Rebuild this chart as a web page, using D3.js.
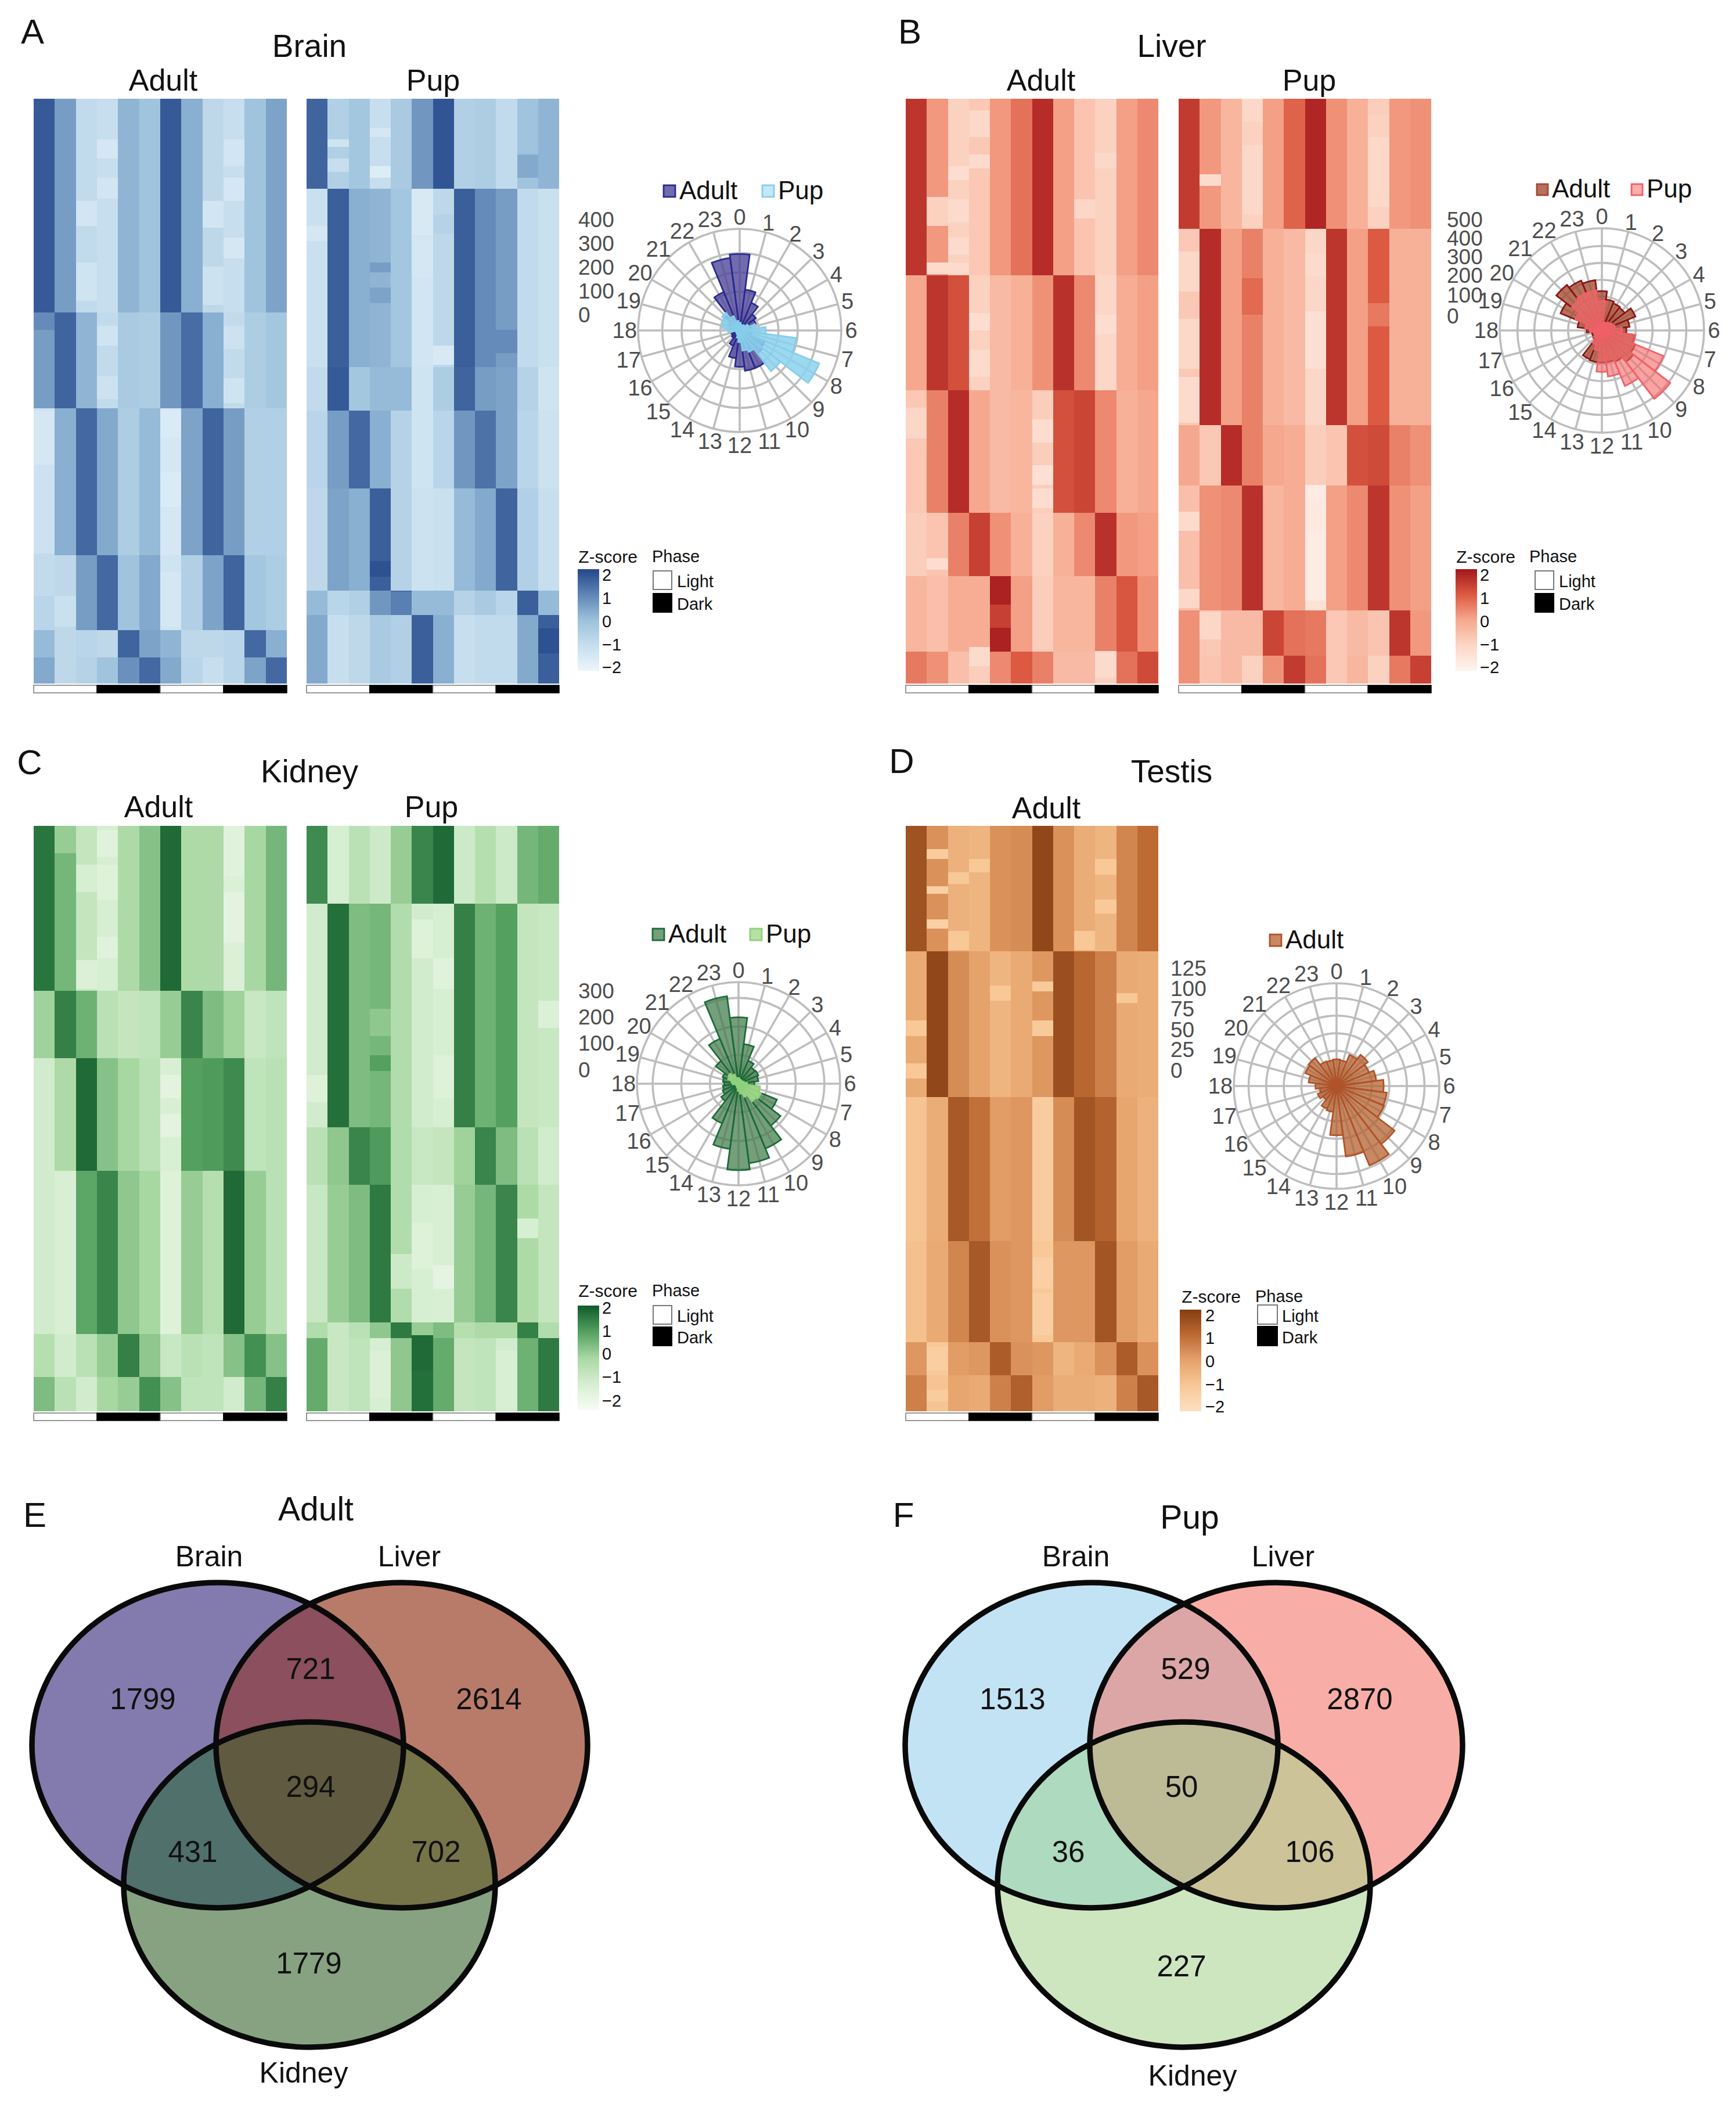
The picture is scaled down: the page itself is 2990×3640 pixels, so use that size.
<!DOCTYPE html>
<html><head><meta charset="utf-8">
<script src="https://cdn.jsdelivr.net/npm/d3@7/dist/d3.min.js"></script>
<style>html,body{margin:0;padding:0;background:#fff}text{font-family:"Liberation Sans",Arial,sans-serif}</style>
</head><body><svg id="fig" width="2990" height="3640" viewBox="0 0 2990 3640"></svg>
<script>
// ---------- data ----------
const hours = d3.range(24);
const phases = ["Light","Dark","Light","Dark"];
const zTicks = [2,1,0,-1,-2];

// rose chart counts per hour 0..23
const brainAdultRose = [395,213,155,105,90,60,35,60,140,150,210,210,188,145,85,50,45,25,40,50,60,100,215,378];
const brainPupRose   = [40,30,30,35,50,85,135,295,445,265,120,105,60,40,25,20,20,20,60,90,100,115,80,50];
const liverAdultRose = [233,185,175,170,215,165,145,195,215,235,200,190,190,190,185,65,60,60,90,145,265,340,320,300];
const liverPupRose   = [175,50,50,60,70,80,120,200,395,510,355,275,245,120,90,60,50,50,70,100,170,225,240,240];
const kidneyAdultRose= [232,140,87,72,75,70,55,75,145,185,245,280,302,230,150,76,60,55,50,55,60,100,170,308];
const kidneyPupRose  = [20,15,15,15,15,20,30,75,85,78,50,35,25,15,10,10,10,10,20,25,40,45,35,20];
const testisAdultRose= [38,37,48,56,50,57,67,72,73,104,122,101,70,37,35,24,29,24,30,40,48,50,38,37];

// heatmaps: cluster sizes (rows), z-score per cluster and column, and visible patches [col, fromRow, toRow, z]
const brainAdultSizes = [555,248,382,195,70,68];
const brainAdultZ = [
 [1.9,.6,-.9,-1,.2,-.1,1.9,.3,-.8,-1,-.1,.5],
 [.6,1.7,.2,-.9,-.3,-.4,.7,1.5,.3,-.9,-.4,-.2],
 [-1.2,.3,1.6,.4,-.4,.1,-1.5,.5,1.7,.6,-.5,-.5],
 [-.7,-.8,.6,1.6,-.1,.4,-1.3,-.5,.5,1.7,-.2,-.4],
 [.1,-.8,-.7,-.8,1.7,.5,.2,-.8,-.8,-.7,1.6,.3],
 [.4,-.8,-.6,-.1,.8,1.6,.4,-.7,-1,-.7,.5,1.6]];
const brainAdultPatches = [[3,105,155,-1.5],[3,205,260,-1.4],[9,105,175,-1.4],[9,205,265,-1.5],[8,265,335,-1.4],[2,265,330,-1.4],[9,360,415,-1.5],[2,425,525,-1.3],[8,435,535,-1.2],[0,555,600,.9],[3,590,640,-1.3],[9,590,650,-1.2],[3,720,780,-1.2],[9,725,790,-1.3],[6,970,1060,-1.7],[6,810,880,-1.7],[0,810,950,-1.5],[0,1180,1290,-.9],[6,1230,1370,-1.5],[1,1290,1370,-1.1]];
const brainPupSizes = [233,464,113,202,265,63,178];
const brainPupZ = [
 [1.7,-.5,-.2,-1,-.3,.7,2,-.5,-.4,-.9,-.1,.2],
 [-1.1,1.8,.3,.2,-.2,-1.4,-.8,1.8,.9,.6,-.9,-1.1],
 [-.9,1.9,-.2,.1,.1,-1.3,-.4,1.7,.6,.5,-.6,-1.3],
 [-.7,.6,1.6,.3,-.6,-1.3,-.7,.7,1.4,.5,-.7,-1.2],
 [-.8,.5,.3,1.8,-.6,-1.2,-1.1,.1,.4,1.7,-.5,-1],
 [.1,-.7,-.5,.7,1.5,.1,.1,-.6,-.3,-.7,1.8,.1],
 [.4,-1,-.8,-.3,-.5,1.8,.3,-1,-.9,-.9,.4,1.8]];
const brainPupPatches = [[3,175,205,-1.8],[3,75,100,-1.5],[1,105,125,-1.3],[1,155,190,-1],[10,145,205,.4],[5,235,355,-1.6],[5,360,465,-1.5],[6,300,350,-.6],[3,425,450,.6],[3,490,530,.5],[0,330,370,-1.5],[9,600,660,.9],[6,640,690,-1.6],[4,1280,1340,1.1],[3,1200,1240,2.1],[11,1375,1440,2.1]];

const liverAdultSizes = [457,298,317,165,195,83];
const liverAdultZ = [
 [1.7,.2,-.9,-.7,.2,.7,1.9,.1,-.6,-.9,.1,.4],
 [0,1.7,1.2,-.9,-.4,-.2,.3,1.8,.4,-1,-.1,.1],
 [-.7,.5,1.9,0,-.4,-.3,-.8,1.2,1.4,.4,-.2,0],
 [-.8,-.6,.5,1.5,.3,-.2,-.9,-.2,.4,1.8,.2,.1],
 [-.3,-.5,-.1,-.1,2.1,.1,-.8,-.3,-.3,.5,1.1,.3],
 [.6,.3,-.5,-.8,.4,1,.5,-.4,-.4,-.9,.7,1.3]];
const liverAdultPatches = [[3,30,100,-1.1],[3,145,180,-1.2],[2,175,210,-1.3],[1,255,330,-.9],[2,260,320,-1.2],[9,140,180,-1.1],[8,260,310,-1],[2,360,405,-1.2],[1,425,455,-1.2],[2,425,455,-1.2],[3,555,600,-1.3],[9,560,610,-1.3],[3,650,720,-1.2],[0,800,880,-1],[6,830,890,-1.3],[6,950,1000,-1.4],[6,1010,1060,-1.3],[4,1310,1370,1.5],[3,1420,1470,-1.2],[9,1430,1500,-1.2],[1,1190,1220,-1.3]];
const liverPupSizes = [337,508,157,323,118,72];
const liverPupZ = [
 [1.6,.2,-.3,-.9,.1,.9,2,.3,-.2,-.9,.2,.3],
 [-.7,1.9,.1,.5,-.2,-.4,-1,1.7,.1,1,-.2,-.2],
 [0,-.7,1.9,.5,0,-.1,-.8,-.6,1.2,1.3,.5,.3],
 [-.5,.3,.4,1.8,-.3,-.1,-1.5,.1,.4,1.7,.3,.1],
 [.3,-.7,-.4,-.4,1.4,.7,.6,-.7,-.4,-.6,1.7,.2],
 [.3,-.6,-.4,-.9,.3,1.6,.7,-.7,-.3,-.9,.6,1.5]];
const liverPupPatches = [[3,120,300,-1.1],[3,0,60,-1.1],[9,100,280,-1.1],[9,0,40,-.8],[1,195,225,-1.2],[0,395,500,-1.1],[0,570,700,-1.1],[6,550,700,-1.4],[6,400,460,-1.2],[9,530,590,.6],[3,465,560,.8],[0,720,840,-1.2],[6,1000,1300,-1.9],[6,1040,1120,-1.8],[0,1070,1120,-1.2],[0,1270,1320,-1.1],[1,1330,1400,-1]];

const kidneyAdultSizes = [424,173,290,420,110,88];
const kidneyAdultZ = [
 [1.8,.6,-.6,-1,-.1,.4,2,-.1,-.1,-1.2,0,.6],
 [.1,1.6,.7,-.4,-.6,-.5,.2,1.5,.5,.1,-.7,-.5],
 [-.9,-.1,2,.4,0,-.4,-1.1,1,1.1,1.4,-.5,-.4],
 [-.9,-1.1,.9,1.5,.3,0,-1.3,.2,-.3,2,.2,-.4],
 [-.3,-.9,-.4,.2,1.6,.3,-.7,-.4,-.5,.4,1.3,.4],
 [.5,-.4,-.9,0,.2,1.3,.4,-.5,-.5,-.9,.6,1.6]];
const kidneyAdultPatches = [[3,10,80,-1.4],[3,100,190,-1.3],[3,285,340,-1.4],[2,100,170,-1],[2,345,420,-1.2],[9,0,130,-1.4],[9,170,300,-1.5],[9,300,420,-1.2],[1,0,70,.2],[6,640,700,-1.5],[6,740,800,-1.5]];
const kidneyPupSizes = [200,575,147,355,40,188];
const kidneyPupZ = [
 [1.4,-1,-.4,-.8,.2,1.5,2,-.8,-.3,-.8,.6,.8],
 [-.9,1.9,.5,.6,-.2,-.9,-1,1.6,.7,1,-.6,-.7],
 [-.4,.3,1.5,1.1,-.2,-.7,-.6,.1,1.5,.5,-.4,-.9],
 [-.7,.2,.5,1.7,-.2,-1,-1.1,.2,.6,1.5,-.1,-.6],
 [-.2,-.7,-.4,.3,1.7,.2,.5,-.3,-.1,-.1,1.6,-.2],
 [.8,-.7,-.5,-1,.3,1.9,.8,-.6,-.5,-.9,.7,1.7]];
const kidneyPupPatches = [[3,470,540,.3],[3,590,630,1],[6,340,420,-1.4],[6,590,700,-1.3],[0,640,710,-1.3],[5,240,340,-1.3],[10,1010,1060,-1],[11,450,520,-1.2],[4,1100,1190,-.8],[5,1020,1140,-1.3],[6,1130,1190,-1.6],[3,1350,1470,-1.2],[9,1350,1500,-1.1],[5,1310,1400,2]];

const testisAdultSizes = [322,375,370,260,85,93];
const testisAdultZ = [
 [1.7,.3,-.4,-.5,.3,.4,2,.3,-.3,-.5,.5,1],
 [-.2,2,.4,0,-.5,-.2,.2,1.8,1.1,.6,-.2,-.3],
 [-.9,-.3,1.5,.9,.1,.2,-1.2,.4,1.6,1.2,-.1,-.4],
 [-.8,-.2,.5,1.5,.3,.2,-1,.2,.2,1.6,.1,-.2],
 [.2,-1,.1,.2,1.4,.3,.2,-.5,-.2,.3,1.4,.3],
 [.6,-.9,-.1,-.2,.6,1.3,.1,-.3,-.3,-.4,.6,1.5]];
const testisAdultPatches = [[1,60,85,-1.2],[1,155,175,-1.4],[1,240,265,-1.4],[3,85,120,-1],[2,120,150,-1],[2,270,320,-1],[9,85,125,-1],[9,190,225,-1.1],[8,270,320,-1],[6,500,540,-1.1],[4,410,450,-1],[0,500,540,-1],[0,610,650,-1],[6,400,425,-1.1],[10,430,455,-1],[1,1340,1400,-1.3],[1,1450,1480,-1.2],[6,1110,1190,-1.4],[6,1200,1310,-1.3]];

// Venn labels and counts
const vennSets = ["Brain","Liver","Kidney"];
const vennAdultCounts = [1799,2614,1779,721,431,702,294];
const vennPupCounts = [1513,2870,227,529,36,106,50];

// colour ramps (z = 2,1,0,-1,-2)
const blueRamp  = ["#24478a","#5e85b6","#9cc1dc","#c6deee","#ecf6fb"];
const redRamp   = ["#a3171c","#dc5a42","#f6a88e","#fcd6c6","#fff5f0"];
const greenRamp = ["#0f5a2a","#53a05f","#a8d8a2","#d6eed1","#f7fcf5"];
const brownRamp = ["#853d13","#bd6a33","#e6a26b","#f8c897","#fde0c2"];
// ---------- helpers ----------
const svg = d3.select("#fig");
svg.append("rect").attr("width",2990).attr("height",3640).attr("fill","#fff");
function txt(x,y,s,size,anchor="middle",fill="#111"){
  return svg.append("text").attr("x",x).attr("y",y).attr("font-size",size).attr("text-anchor",anchor)
    .attr("dominant-baseline","central").attr("fill",fill).text(s);
}
function heatmap(x0,x1,y0,y1,sizes,z,patches,ramp){
  const color = d3.scaleLinear().domain([2.3,1,0,-1,-2.3]).range(ramp).clamp(true);
  const cols = d3.scaleBand().domain(d3.range(12)).range([x0,x1]);
  const rows = d3.scaleLinear().domain([0,d3.sum(sizes)]).range([y0,y1]);
  const g = svg.append("g").attr("shape-rendering","crispEdges");
  let start=0;
  sizes.forEach((n,i)=>{
    z[i].forEach((v,c)=>g.append("rect").attr("x",cols(c)).attr("width",cols.bandwidth())
      .attr("y",rows(start)).attr("height",rows(start+n)-rows(start)).attr("fill",color(v)));
    start+=n;
  });
  patches.forEach(([c,a,b,v])=>g.append("rect").attr("x",cols(c)).attr("width",cols.bandwidth())
    .attr("y",rows(a)).attr("height",rows(b)-rows(a)).attr("fill",color(v)));
  const ph = d3.scaleBand().domain(d3.range(4)).range([x0,x1]);
  const by=y1+3, bh=13;
  phases.forEach((p,i)=>svg.append("rect").attr("x",ph(i)).attr("y",by).attr("width",ph.bandwidth()).attr("height",bh)
    .attr("fill",p==="Light"?"#fff":"#000").attr("stroke",p==="Light"?"#777":"#000").attr("stroke-width",1.5));
}
function rose(cx,cy,R,outer,ticks,layers,tickX,tickYs){
  const r = d3.scaleLinear().domain([0,outer]).range([0,R]);
  const ang = d3.scaleLinear().domain([0,24]).range([0,2*Math.PI]);
  const g = svg.append("g").attr("transform",`translate(${cx},${cy})`);
  const gridCol="#bdbdbd";
  ticks.concat([outer]).forEach(t=>g.append("circle").attr("r",r(t)).attr("fill","none").attr("stroke",gridCol).attr("stroke-width",3.6));
  hours.forEach(h=>g.append("line").attr("x1",0).attr("y1",0)
    .attr("x2",R*Math.sin(ang(h))).attr("y2",-R*Math.cos(ang(h))).attr("stroke",gridCol).attr("stroke-width",3.6));
  const arc = d3.arc().innerRadius(0);
  layers.forEach(l=>{
    l.values.forEach((v,h)=>g.append("path")
      .attr("d",arc({outerRadius:r(v),startAngle:ang(h-.5),endAngle:ang(h+.5)}))
      .attr("fill",l.fill).attr("fill-opacity",l.alpha).attr("stroke",l.stroke).attr("stroke-width",2.8));
  });
  hours.forEach(h=>{
    const rr=R+(h===0?20:h<10?17:23);
    g.append("text").attr("x",rr*Math.sin(ang(h))).attr("y",-rr*Math.cos(ang(h)))
     .attr("text-anchor","middle").attr("dominant-baseline","central").attr("font-size",38).attr("fill","#4d4d4d").text(h);
  });
  [...ticks].reverse().concat([0]).forEach((t,i)=>txt(tickX,tickYs[i],t,37,"start","#4d4d4d"));
}
function roseLegend(items,y,size){
  items.forEach(it=>{
    svg.append("rect").attr("x",it.x).attr("y",y).attr("width",size).attr("height",size)
      .attr("fill",it.fill).attr("fill-opacity",it.alpha).attr("stroke",it.stroke).attr("stroke-width",2.8);
    txt(it.x+size+7,y+size/2-2,it.label,44,"start","#111");
  });
}
function zLegend(barX,barW,barY0,barY1,labelX,tickYs,zText,titleY,phaseX,boxX,boxW,lightY,darkY,boxH,textX,ramp,id){
  const grad = svg.append("defs").append("linearGradient").attr("id",id).attr("x1",0).attr("x2",0).attr("y1",0).attr("y2",1);
  ramp.forEach((c,i)=>grad.append("stop").attr("offset",d3.scaleLinear().domain([0,ramp.length-1]).range([0,1])(i)).attr("stop-color",c));
  svg.append("rect").attr("x",barX).attr("y",barY0).attr("width",barW).attr("height",barY1-barY0).attr("fill",`url(#${id})`);
  zTicks.forEach((t,i)=>txt(labelX,tickYs[i],t<0?"\u2212"+(-t):t,29,"start","#111"));
  txt(zText,titleY,"Z-score",30,"middle","#111");
  txt(phaseX,titleY,"Phase",29,"start","#111");
  phases.slice(0,2).forEach((p,i)=>{
    svg.append("rect").attr("x",boxX).attr("y",i?darkY:lightY).attr("width",boxW).attr("height",boxH)
      .attr("fill",p==="Light"?"#fff":"#000").attr("stroke",p==="Light"?"#777":"#000").attr("stroke-width",2);
    txt(textX,(i?darkY:lightY)+boxH/2+2,p,29,"start","#111");
  });
}
function venn(cxs,cys,rx,ry,colors,counts,pos){
  const id = "v"+cxs[0];
  const defs = svg.append("defs");
  cxs.forEach((cx,i)=>defs.append("clipPath").attr("id",id+"c"+i).append("ellipse")
    .attr("cx",cx).attr("cy",cys[i]).attr("rx",rx).attr("ry",ry));
  const ell=(i)=>svg.append("ellipse").attr("cx",cxs[i]).attr("cy",cys[i]).attr("rx",rx).attr("ry",ry);
  [0,1,2].forEach(i=>ell(i).attr("fill",colors[i]));
  [[0,1,3],[0,2,4],[1,2,5]].forEach(([a,b,c])=>ell(a).attr("fill",colors[c]).attr("clip-path",`url(#${id}c${b})`));
  svg.append("g").attr("clip-path",`url(#${id}c2)`).append("ellipse").attr("cx",cxs[0]).attr("cy",cys[0]).attr("rx",rx).attr("ry",ry)
    .attr("fill",colors[6]).attr("clip-path",`url(#${id}c1)`);
  [0,1,2].forEach(i=>ell(i).attr("fill","none").attr("stroke","#0a0a0a").attr("stroke-width",9.5));
  counts.forEach((c,i)=>txt(pos[i][0],pos[i][1],c,51,"middle","#111"));
}
// ---------- panels ----------
const T1=170,B1=1177,T2=1422,B2=2430;
// A
txt(56,54,"A",60); txt(533,79,"Brain",55,"middle"); txt(281,138,"Adult",52); txt(746,138,"Pup",52);
heatmap(58,494,T1,B1,brainAdultSizes,brainAdultZ,brainAdultPatches,blueRamp);
heatmap(528,963,T1,B1,brainPupSizes,brainPupZ,brainPupPatches,blueRamp);
const aAd={values:brainAdultRose,fill:"#4a4297",alpha:.78,stroke:"#2a2a90"}, aPu={values:brainPupRose,fill:"#8bd2ee",alpha:.85,stroke:"#86cdea"};
rose(1274,569,175,525,[100,200,300,400],[aAd,aPu],996,[378,419,460,501,542]);
roseLegend([{x:1143,label:"Adult",...aAd},{x:1313,label:"Pup",fill:aPu.fill,alpha:.5,stroke:aPu.stroke}],319,20);
zLegend(995,37,980,1155,1037,[990,1030,1070,1110,1149],1047,958,1123,1125,32,983,1022,32,1166,blueRamp,"gA");
// B
txt(1567,54,"B",60); txt(2018,79,"Liver",55); txt(1793,138,"Adult",52); txt(2255,138,"Pup",52);
heatmap(1560,1995,T1,B1,liverAdultSizes,liverAdultZ,liverAdultPatches,redRamp);
heatmap(2030,2465,T1,B1,liverPupSizes,liverPupZ,liverPupPatches,redRamp);
const bAd={values:liverAdultRose,fill:"#a2492f",alpha:.78,stroke:"#8c1515"}, bPu={values:liverPupRose,fill:"#f56b6b",alpha:.62,stroke:"#f06068"};
rose(2759,569,176,605,[100,200,300,400,500],[bAd,bPu],2492,[378,410,442,474,508,544]);
roseLegend([{x:2647,label:"Adult",...bAd,stroke:"#a2492f"},{x:2810,label:"Pup",fill:bPu.fill,alpha:.55,stroke:bPu.stroke}],317,19);
zLegend(2507,37,980,1155,2549,[990,1030,1070,1110,1149],2559,958,2634,2644,32,983,1022,32,2685,redRamp,"gB");
// C
txt(51,1312,"C",60); txt(533,1328,"Kidney",55); txt(273,1389,"Adult",52); txt(743,1389,"Pup",52);
heatmap(58,494,T2,B2,kidneyAdultSizes,kidneyAdultZ,kidneyAdultPatches,greenRamp);
heatmap(528,963,T2,B2,kidneyPupSizes,kidneyPupZ,kidneyPupPatches,greenRamp);
const cAd={values:kidneyAdultRose,fill:"#3f7a47",alpha:.72,stroke:"#1c6b38"}, cPu={values:kidneyPupRose,fill:"#a3da8c",alpha:.92,stroke:"#8fd07c"};
rose(1272,1866,175,355,[100,200,300],[cAd,cPu],996,[1706,1751,1796,1842]);
roseLegend([{x:1124,label:"Adult",...cAd},{x:1292,label:"Pup",fill:cPu.fill,alpha:.8,stroke:cPu.stroke}],1599,20);
zLegend(995,37,2248,2428,1037,[2252,2292,2331,2371,2412],1047,2222,1123,1125,32,2248,2285,32,1166,greenRamp,"gC");
// D
txt(1553,1310,"D",60); txt(2018,1328,"Testis",55); txt(1802,1391,"Adult",52);
heatmap(1560,1995,T2,B2,testisAdultSizes,testisAdultZ,testisAdultPatches,brownRamp);
const dAd={values:testisAdultRose,fill:"#b3622f",alpha:.75,stroke:"#b0532a"};
rose(2302,1870,177,146,[25,50,75,100,125],[dAd],2016,[1667,1702,1737,1773,1807,1843]);
roseLegend([{x:2187,label:"Adult",...dAd}],1609,20);
zLegend(2032,37,2255,2430,2076,[2265,2304,2344,2384,2422],2086,2232,2162,2166,34,2247,2284,33,2208,brownRamp,"gD");
// E
txt(60,2608,"E",60); txt(544,2598,"Adult",57);
txt(360,2680,vennSets[0],50); txt(705,2680,vennSets[1],50); txt(523,3569,vennSets[2],50);
venn([375,692,533],[3005,3005,3245],320,280,
  ["#837bad","#b97b69","#87a281","#8b4f5e","#50706b","#757449","#5f5a40"],vennAdultCounts,
  [[246,2925],[842,2925],[532,3380],[535,2873],[332,3188],[751,3188],[535,3076]]);
// F
txt(1556,2608,"F",60); txt(2049,2612,"Pup",57);
txt(1853,2680,vennSets[0],50); txt(2210,2680,vennSets[1],50); txt(2054,3574,vennSets[2],50);
venn([1880,2198,2039],[3005,3005,3245],321,280,
  ["#c2e3f4","#f8aea6","#cde6c0","#dda6a6","#aedabf","#cdc399","#bdbb96"],vennPupCounts,
  [[1744,2925],[2342,2925],[2035,3385],[2042,2873],[1840,3188],[2256,3188],[2035,3076]]);
</script></body></html>
